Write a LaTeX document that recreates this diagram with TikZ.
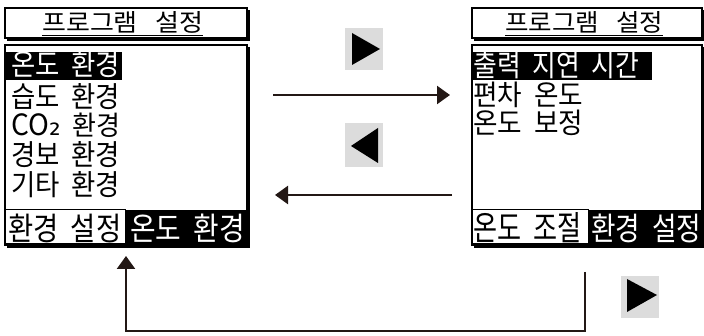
\documentclass[tikz,border=0pt]{standalone}
\usepackage{graphicx}
\usepackage{fontspec}
\setmainfont{Noto Sans CJK KR}[WordSpace=2]
\newfontfamily\titlefont{Noto Sans CJK KR}[WordSpace=3]
\newfontfamily\subfont{DejaVu Sans}
\usetikzlibrary{arrows.meta}
\definecolor{ink}{HTML}{231815}
\definecolor{keybg}{HTML}{DCDCDC}
% set a label to a given width and height above the baseline (in px)
\newcommand\fitto[3]{\resizebox{#1pt}{#2pt}{#3}}
\tikzset{
  x=1pt, y=-1pt,
  frame/.style={draw=black, line width=1.4pt, fill=white},
  shadowbox/.style={fill=black},
  lbl/.style={anchor=base west, inner sep=0pt, font=\fontsize{25}{25}\selectfont},
  inv/.style={lbl, text=white},
  ttl/.style={anchor=base west, inner sep=0pt, font=\titlefont\fontsize{25}{25}\selectfont},
  flow/.style={draw=ink, line width=2.4pt, -{Triangle[length=13pt,width=18pt]}},
  keytri/.style={fill=black},
}
\begin{document}
\begin{tikzpicture}
\useasboundingbox (0,0) rectangle (704,336);

% ---------- left screen ----------
\fill[shadowbox] (7,10) rectangle (250,41);
\draw[frame] (5,8) rectangle (247,38);
\node[ttl] (lt) at (42,31.5) {\fitto{161}{20}{프로그램 설정}};
\draw[line width=1.3pt] ([yshift=-4pt]lt.base west) -- ([yshift=-4pt]lt.base east);

\fill[shadowbox] (7,47) rectangle (250,248);
\draw[frame] (5,45) rectangle (247,245);
\fill (5,52) rectangle (122,80);
\node[inv] (l1) at (11,76) {\fitto{109}{24.5}{온도 환경}};
\node[lbl] (l2) at (11,108) {\fitto{109}{24}{습도 환경}};
\node[lbl] (l3) at (11,136) {\fitto{109}{22.5}{{\fontsize{27}{27}\selectfont CO}{\subfont\fontsize{28}{28}\selectfont ₂} 환경}};
\node[lbl] (l4) at (11,166) {\fitto{109}{24}{경보 환경}};
\node[lbl] (l5) at (11,196) {\fitto{109}{24}{기타 환경}};
\fill (5,210) rectangle (248,246);
\draw[frame, line width=1pt] (5,210) rectangle (125,244);
\node[lbl] (lb1) at (8,240.5) {\fitto{113}{26.5}{환경 설정}};
\node[inv] (lb2) at (130,240.5) {\fitto{115}{26.5}{온도 환경}};

% ---------- right screen ----------
\fill[shadowbox] (474,10) rectangle (704,41);
\draw[frame] (472,8) rectangle (702,38);
\node[ttl] (rt) at (505,31.5) {\fitto{158}{20}{프로그램 설정}};
\draw[line width=1.3pt] ([yshift=-4pt]rt.base west) -- ([yshift=-4pt]rt.base east);

\fill[shadowbox] (474,47) rectangle (704,248);
\draw[frame] (472,45) rectangle (702,245);
\fill (472,52) rectangle (652,80);
\node[inv] (r1) at (473,77) {\fitto{166}{25}{출력 지연 시간}};
\node[lbl] (r2) at (473,106) {\fitto{110}{23.5}{편차 온도}};
\node[lbl] (r3) at (473,133.5) {\fitto{110}{23.5}{온도 보정}};
\fill (472,210) rectangle (704,246);
\draw[frame, line width=1pt] (472,210) rectangle (588,244);
\node[lbl] (rb1) at (473,241) {\fitto{108}{28}{온도 조절}};
\node[inv] (rb2) at (591,240.5) {\fitto{110}{26.5}{환경 설정}};

% ---------- key icons ----------
\fill[keybg] (345,28) rectangle (383,70);
\fill[keytri] (352,33) -- (380,49) -- (352,65) -- cycle;
\fill[keybg] (345,123) rectangle (383,167);
\fill[keytri] (378,128) -- (351,146) -- (378,163) -- cycle;
\fill[keybg] (621,276) rectangle (659,318);
\fill[keytri] (627,279) -- (657,295) -- (627,312) -- cycle;

% ---------- transitions ----------
\coordinate (a1) at (273,95);
\coordinate (a2) at (450,95);
\draw[flow] (a1) -- (a2);
\coordinate (b1) at (452,195);
\coordinate (b2) at (275,195);
\draw[flow] (b1) -- (b2);
\coordinate (c1) at (585,272);
\coordinate (c2) at (126,256);
\draw[flow] (c1) |- (126,331) -- (c2);
\end{tikzpicture}
\end{document}
